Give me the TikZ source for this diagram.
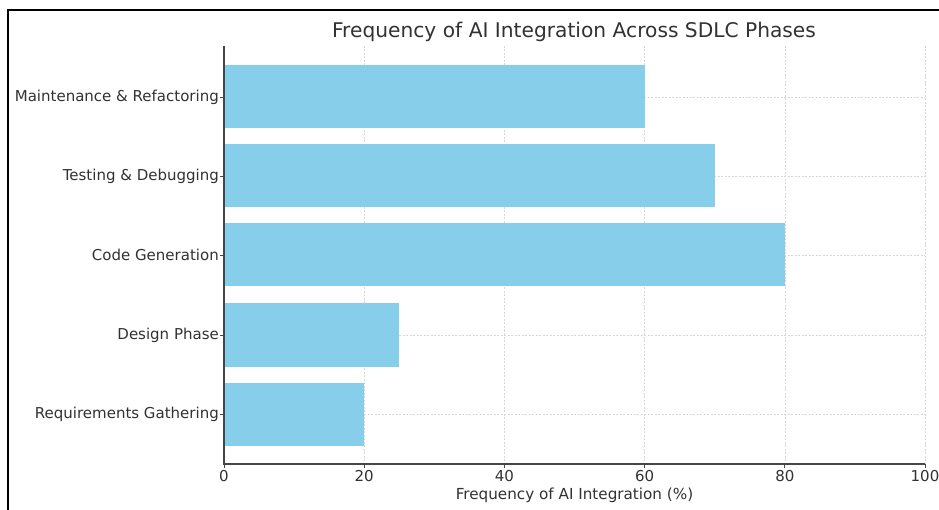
\documentclass[tikz,border=0pt]{standalone}
\usepackage{fontspec}
\setmainfont{DejaVu Sans}
\definecolor{barblue}{RGB}{135,206,235}
\definecolor{txt}{RGB}{50,50,50}
\definecolor{spinec}{RGB}{70,70,70}
\definecolor{gridc}{RGB}{215,215,215}
\begin{document}
\begin{tikzpicture}[x=1pt,y=-1pt,
  gridline/.style={gridc, line width=0.6pt, dash pattern=on 2pt off 1.5pt},
  barstyle/.style={fill=barblue, draw=none},
  spine/.style={spinec, line width=1.2pt},
  ticklbl/.style={text=txt, font=\fontsize{15}{17}\selectfont, inner sep=0pt},
  titlelbl/.style={text=txt, font=\fontsize{20.2}{23}\selectfont, inner sep=0pt},
  axlbl/.style={text=txt, font=\fontsize{15.2}{17}\selectfont, inner sep=0pt}]
\useasboundingbox (0,0) rectangle (939,510);
\fill[white] (0,0) rectangle (939,510);
\draw[black, line width=1.3pt] (8,510) -- (8,10) -- (939,10);
% vertical grid
\foreach \k in {1,...,5} {
  \draw[gridline] ({224+140.2*\k},46) -- ({224+140.2*\k},464);
}
% horizontal grid
\foreach \yy in {97,176,255,335,414} {
  \draw[gridline] (224,\yy) -- (925,\yy);
}
% bars
\foreach \yy/\v/\lab/\nm in {97/60/{Maintenance \& Refactoring}/maint,
                          176/70/{Testing \& Debugging}/test,
                          255/80/{Code Generation}/code,
                          335/25/{Design Phase}/design,
                          414/20/{Requirements Gathering}/req} {
  \fill[barstyle] (224,{\yy-31.5}) rectangle ({224+7.01*\v},{\yy+31.5});
  \draw[spine, line width=0.9pt] (220,\yy) -- (224,\yy);
  \node[ticklbl, anchor=east] (\nm) at (219,\yy) {\lab};
}
% x ticks
\foreach \k/\t in {0/0,1/20,2/40,3/60,4/80,5/100} {
  \draw[spine, line width=0.9pt] ({224+140.2*\k},464) -- ({224+140.2*\k},468);
  \node[ticklbl, anchor=north] (xt\k) at ({224+140.2*\k},470.5) {\t};
}
% spines
\draw[spine] (224,46) -- (224,464) -- (925,464);
\node[titlelbl] (title) at (574,32) {Frequency of AI Integration Across SDLC Phases};
\node[axlbl] (xlabel) at (574.5,495) {Frequency of AI Integration (\%)};
\end{tikzpicture}
\end{document}
